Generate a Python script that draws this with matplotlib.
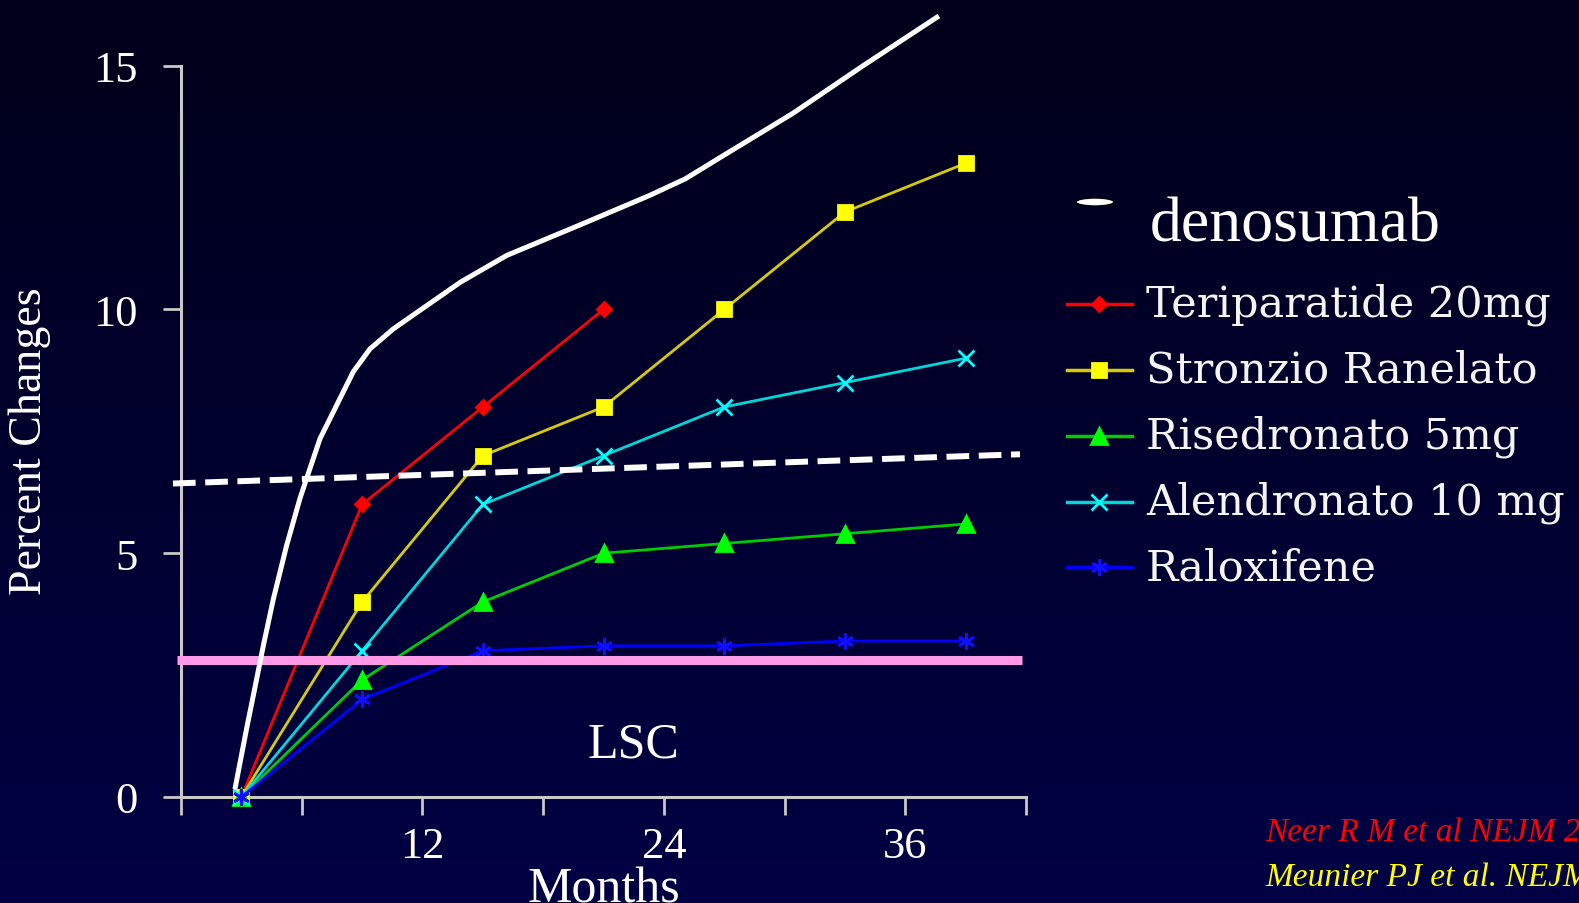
import numpy as np
import matplotlib.pyplot as plt
from matplotlib.lines import Line2D
from matplotlib.patches import Ellipse
from matplotlib.colors import LinearSegmentedColormap

# data (months / percent change)
months = [3, 9, 15, 21, 27, 33, 39]
teriparatide = [0, 6, 8, 10]
stronzio = [0, 4, 7, 8, 10, 12, 13]
risedronato = [0, 2.4, 4, 5, 5.2, 5.4, 5.6]
alendronato = [0, 3, 6, 7, 8, 8.5, 9]
raloxifene = [0, 2, 3, 3.1, 3.1, 3.2, 3.2]

deno_x = [2.68, 3.26, 3.76, 4.09, 4.59, 5.25, 5.91, 6.24, 6.91, 7.73, 8.56,
          9.39, 10.55, 11.87, 13.89, 16.2, 19.75, 23.3, 25.07, 26.85, 30.4,
          33.94, 37.67]
deno_y = [0.16, 1.40, 2.42, 3.10, 4.06, 5.16, 6.12, 6.53, 7.35, 8.03, 8.72,
          9.19, 9.60, 9.98, 10.56, 11.11, 11.72, 12.34, 12.68, 13.13, 14.02,
          15.01, 16.02]

dash_x = [-0.4, 41.7]
dash_y = [6.43, 7.03]
lsc_x = [-0.2, 41.8]
lsc_y = [2.8, 2.8]

xticks = [0, 6, 12, 18, 24, 30, 36, 42]
xlabels = ['', '', '12', '', '24', '', '36', '']
yticks = [0, 5, 10, 15]

series = [
    ('Teriparatide 20mg', teriparatide, '#ff0000', '#ff0000', 'D', 7),
    ('Stronzio Ranelato', stronzio, '#d8cc00', '#ffff00', 's', 10),
    ('Risedronato 5mg', risedronato, '#00cc00', '#00ff00', '^', 11),
    ('Alendronato 10 mg', alendronato, '#00d8d8', '#00ffff', 'x', 11),
    ('Raloxifene', raloxifene, '#0000ff', '#1010ff', (6, 2, 0), 12),
]

W, H = 1579, 904
serif = ['Liberation Serif', 'DejaVu Serif']


def fx(px):
    return px / W


def fy(py):
    return 1 - py / H


fig = plt.figure(figsize=(W / 100, H / 100), dpi=100)

# slide background gradient
bg = fig.add_axes([0, 0, 1, 1], zorder=-1)
grad = np.linspace(0, 1, 256).reshape(-1, 1)
cmap = LinearSegmentedColormap.from_list('slide', ['#00001a', '#00002e', '#000044'])
bg.imshow(grad, aspect='auto', cmap=cmap, extent=[0, 1, 0, 1], origin='upper')
bg.axis('off')

ax = fig.add_axes([fx(181), fy(798), (1026 - 181) / W, (798 - 66.7) / H])
ax.set_facecolor('none')

for name, vals, lc, mc, mk, ms in series:
    ax.plot(months[:len(vals)], vals, color=lc, lw=2, marker=mk, ms=ms,
            mfc=mc, mec=mc, mew=2, zorder=3, clip_on=False)

ax.plot(lsc_x, lsc_y, color='#ff99e8', lw=6.5, zorder=4, clip_on=False,
        solid_capstyle='butt')
ax.plot(dash_x, dash_y, color='white', lw=4.3, dashes=(3.8, 1.6), zorder=5,
        clip_on=False, dash_capstyle='butt')
ax.plot(deno_x, deno_y, color='white', lw=3.6, zorder=6, clip_on=False,
        solid_joinstyle='round', solid_capstyle='butt')

ax.text(22.5, 1.09, 'LSC', ha='center', va='center', color='white',
        fontsize=36, family=serif)

ax.set_xlim(0, 42)
ax.set_ylim(0, 15)
ax.set_xticks(xticks)
ax.set_xticklabels(xlabels)
ax.set_yticks(yticks)
for s in ['top', 'right']:
    ax.spines[s].set_visible(False)
for s in ['left', 'bottom']:
    ax.spines[s].set_color('#c8c8c8')
    ax.spines[s].set_linewidth(2.2)
ax.tick_params(axis='both', colors='#c8c8c8', labelcolor='white', length=13,
               width=2, direction='out', labelsize=32)
ax.tick_params(axis='y', pad=18)
ax.tick_params(axis='x', pad=8)
for lab in ax.get_xticklabels() + ax.get_yticklabels():
    lab.set_family(serif)

ax.set_xlabel('Months', color='white', fontsize=36, family=serif, va='top')
ax.xaxis.set_label_coords(0.5, -0.094)
fig.text(fx(30), fy(441), 'Percent Changes', rotation=90, ha='center',
         va='center', color='white', fontsize=33, family=serif)

# legend, laid out by hand as on the slide
fig.add_artist(Ellipse((fx(1095), fy(203)), 38 / W, 8 / H, facecolor='white',
                       edgecolor='black', lw=1, transform=fig.transFigure))
fig.text(fx(1150), fy(242), 'denosumab', color='white', fontsize=46,
         family=serif, va='baseline')

row_y = [305, 370.7, 436.7, 502.7, 568.3]
for (name, vals, lc, mc, mk, ms), ry in zip(series, row_y):
    fig.add_artist(Line2D([fx(1067), fx(1099), fx(1132)], [fy(ry)] * 3,
                          color=lc, lw=2.5, marker=mk, ms=ms, mfc=mc, mec=mc,
                          mew=2, markevery=[1], transform=fig.transFigure))
    fig.text(fx(1146), fy(ry + 12), name, color='#f4f4f4', fontsize=31,
             family=['DejaVu Serif'], va='baseline')

fig.text(fx(1265), fy(833), 'Neer R M et al NEJM 2001', color='#ff0000',
         fontsize=24, style='italic', family=serif, va='center')
fig.text(fx(1265), fy(878), 'Meunier PJ et al. NEJM 2004', color='#ffff00',
         fontsize=24, style='italic', family=serif, va='center')

fig.savefig('out.png', dpi=100)
